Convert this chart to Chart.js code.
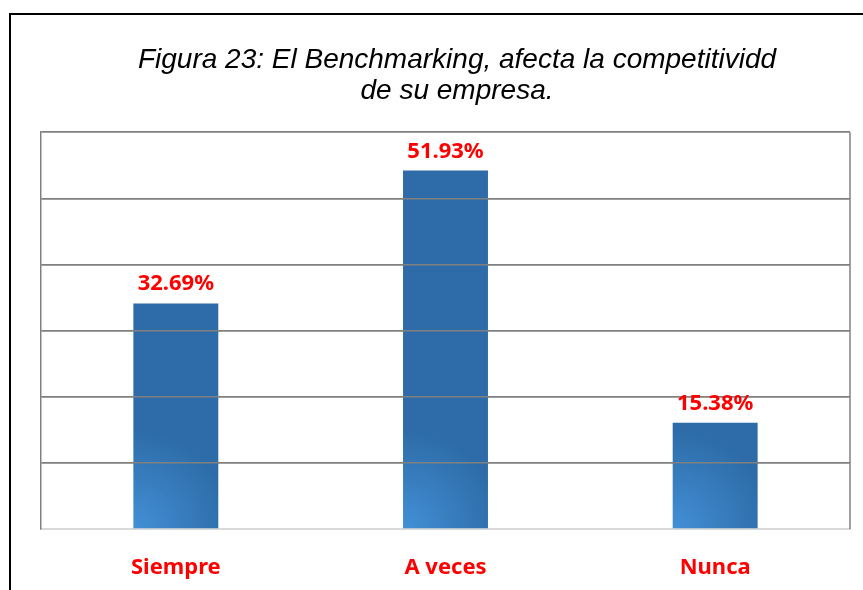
<!DOCTYPE html>
<html>
<head>
<meta charset="utf-8">
<script src="https://cdn.jsdelivr.net/npm/chart.js@4.4.1/dist/chart.umd.min.js"></script>
<style>
  html, body { margin: 0; padding: 0; background: #fff; overflow: hidden; width: 863px; height: 590px; }
  #frame { position: absolute; left: 9px; top: 13px; width: 1000px; height: 1000px; border: 2px solid #000; pointer-events: none; }
  #box { position: absolute; left: 0; top: 0; width: 914px; height: 590px; }
</style>
</head>
<body>
<div id="box"><canvas id="chart"></canvas></div>
<div id="frame"></div>
<script>
const categories = ['Siempre', 'A veces', 'Nunca']
const percentages = [32.69, 51.93, 15.38]
const titleLines = ['Figura 23: El Benchmarking, afecta la competitividd', 'de su empresa.']

const red = '#ff0000'
const gray = '#808080'
const barPct = 0.315

// lighter glow in the lower left corner of each bar
function barFill(ctx) {
   const chart = ctx.chart
   const area = chart.chartArea
   if (!area || ctx.type !== 'data') return '#2d6ca8'
   const x = chart.scales.x
   const w = (area.width / categories.length) * barPct
   const left = x.getPixelForValue(ctx.dataIndex) - w / 2
   const bottom = area.bottom
   const g = chart.ctx.createRadialGradient(left, bottom, 0, left, bottom, w * 1.15)
   g.addColorStop(0, '#4390d6')
   g.addColorStop(1, '#2d6ca8')
   return g
}

const overlay = {
   id: 'overlay',
   afterDatasetsDraw(chart) {
      const { ctx, chartArea } = chart
      // grid lines sit on top of the bars
      chart.scales.y.drawGrid(chartArea)

      ctx.save()
      ctx.strokeStyle = gray
      ctx.lineWidth = 1.5
      ctx.beginPath()
      ctx.moveTo(chartArea.right, chartArea.top)
      ctx.lineTo(chartArea.right, chartArea.bottom)
      ctx.stroke()

      ctx.fillStyle = red
      ctx.font = 'bold 22px "Noto Sans"'
      ctx.textAlign = 'center'
      ctx.textBaseline = 'alphabetic'
      const meta = chart.getDatasetMeta(0)
      meta.data.forEach((bar, i) => {
         ctx.fillText(percentages[i].toFixed(2) + '%', bar.x, bar.y - 13)
      })
      ctx.restore()
   }
}

new Chart(document.getElementById('chart'), {
   type: 'bar',
   data: {
      labels: categories,
      datasets: [{
         data: percentages,
         backgroundColor: barFill,
         borderWidth: 0,
         barPercentage: barPct,
         categoryPercentage: 1
      }]
   },
   options: {
      responsive: true,
      maintainAspectRatio: false,
      animation: false,
      layout: { padding: 0 },
      plugins: {
         legend: { display: false },
         tooltip: { enabled: false },
         title: {
            display: true,
            text: titleLines,
            color: '#000',
            font: { family: '"Liberation Sans", Arial', style: 'italic', weight: 'normal', size: 28, lineHeight: 1.11 },
            padding: { top: 45, bottom: 25 }
         }
      },
      scales: {
         x: {
            afterFit(s) { s.height = 61 },
            grid: { display: false, drawTicks: false },
            border: { display: true, color: '#d9d9d9', width: 2 },
            ticks: {
               color: red,
               padding: 26,
               font: { family: '"Noto Sans"', weight: 'bold', size: 22, lineHeight: 1.2 }
            }
         },
         y: {
            min: 0,
            max: 57.5,
            afterFit(s) { s.width = 41 },
            ticks: { display: false, count: 7 },
            grid: {
               drawTicks: false,
               lineWidth: 1.5,
               color: ctx => ctx.index === 0 ? 'rgba(0,0,0,0)' : gray
            },
            border: { display: true, color: gray, width: 1.5 }
         },
         y2: {
            position: 'right',
            afterFit(s) { s.width = 64 },
            ticks: { display: false },
            grid: { display: false },
            border: { display: false }
         }
      }
   },
   plugins: [overlay]
})
</script>
</body>
</html>
